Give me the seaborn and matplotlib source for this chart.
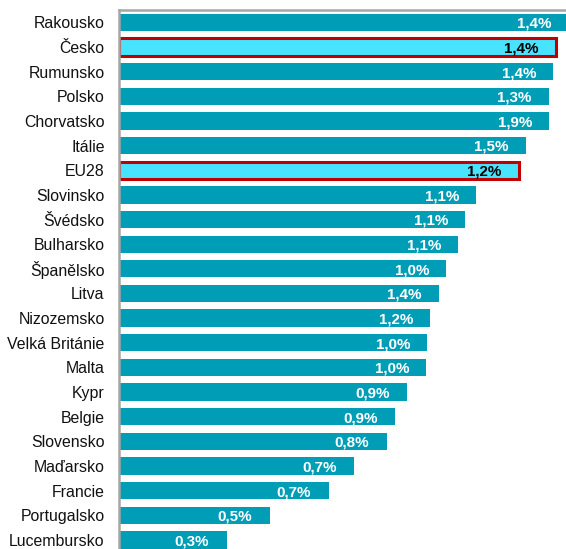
import matplotlib
matplotlib.use("Agg")
import matplotlib.pyplot as plt
import numpy as np
import pandas as pd
import seaborn as sns

# categories top -> bottom
countries = [
    "Rakousko", "Česko", "Rumunsko", "Polsko", "Chorvatsko", "Itálie", "EU28",
    "Slovinsko", "Švédsko", "Bulharsko", "Španělsko", "Litva", "Nizozemsko",
    "Velká Británie", "Malta", "Kypr", "Belgie", "Slovensko", "Maďarsko",
    "Francie", "Portugalsko", "Lucembursko",
]
# bar lengths
bar_values = [
    4.50, 4.37, 4.35, 4.30, 4.31, 4.07, 4.00,
    3.58, 3.47, 3.40, 3.28, 3.20, 3.12,
    3.09, 3.08, 2.89, 2.77, 2.68, 2.36,
    2.10, 1.51, 1.08,
]
# printed labels
label_values = [
    1.4, 1.4, 1.4, 1.3, 1.9, 1.5, 1.2,
    1.1, 1.1, 1.1, 1.0, 1.4, 1.2,
    1.0, 1.0, 0.9, 0.9, 0.8, 0.7,
    0.7, 0.5, 0.3,
]
highlight = ["Česko", "EU28"]

BAR = "#009db6"
HI_FILL = "#48e4ff"
HI_EDGE = "#c00000"

df = pd.DataFrame({"country": countries, "value": bar_values, "label": label_values})

sns.set_theme(style="white")
plt.rcParams["font.family"] = ["Liberation Sans", "DejaVu Sans"]

W, H = 566, 549
fig = plt.figure(figsize=(W / 100, H / 100), dpi=100)
fig.patch.set_facecolor("white")

# plot area runs past the right and bottom edges (cropped chart)
ax_left, ax_top = 118.5, 10.0
step = 24.65
ax_h = step * len(countries)
ax_w = 461.0
ax = fig.add_axes([ax_left / W, 1 - (ax_top + ax_h) / H, ax_w / W, ax_h / H])

palette = {c: (HI_FILL if c in highlight else BAR) for c in countries}
sns.barplot(
    data=df, x="value", y="country", hue="country", order=countries,
    hue_order=countries, palette=palette, width=0.7, legend=False,
    saturation=1, linewidth=0, ax=ax,
)

ax.set_xlim(0, ax_w / 100)
ax.set_ylim(len(countries) - 0.5, -0.5)
ax.set_xlabel("")
ax.set_ylabel("")
ax.set_xticks([])
ax.tick_params(axis="y", length=0, pad=10, labelsize=11.4, labelcolor="#111111")

for side in ["right", "bottom"]:
    ax.spines[side].set_visible(False)
for side in ["left", "top"]:
    ax.spines[side].set_color("#a6a6a6")
    ax.spines[side].set_linewidth(1.8)

for p in ax.patches:
    idx = int(round(p.get_y() + p.get_height() / 2))
    if idx < 0 or idx >= len(countries) or p.get_width() == 0:
        continue
    name = countries[idx]
    if name in highlight:
        p.set_edgecolor(HI_EDGE)
        p.set_linewidth(2.2)
    txt = f"{label_values[idx]:.1f}%".replace(".", ",")
    ax.annotate(
        txt, xy=(p.get_width(), idx), xytext=(-12.5, -1), textcoords="offset points",
        ha="right", va="center", fontsize=10.9, fontweight="bold",
        color="black" if name in highlight else "white",
    )

fig.savefig("out.png", dpi=100)
